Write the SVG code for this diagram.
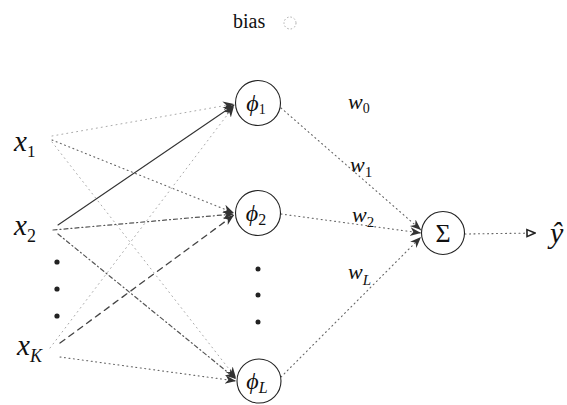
<svg xmlns="http://www.w3.org/2000/svg" width="567" height="405" viewBox="0 0 567 405">
<defs>
<style>
text{font-family:'Liberation Serif','Times New Roman',serif;fill:#111}
.i{font-style:italic}
.node{fill:#fff;stroke:#222;stroke-width:1.1}
.c{fill:none;stroke-linecap:round}
.dot{stroke:#666;stroke-width:1.1;stroke-dasharray:1 3.5}
.faint{stroke:#aaa;stroke-width:1;stroke-dasharray:1 4}
.dd{stroke:#555;stroke-width:1.2;stroke-dasharray:4 3 1 3}
.dash{stroke:#444;stroke-width:1.3;stroke-dasharray:6 5}
.solid{stroke:#333;stroke-width:1.1}
</style>
<marker id="ah" viewBox="0 0 10 10" refX="10" refY="5" markerWidth="11" markerHeight="11" markerUnits="userSpaceOnUse" orient="auto">
<path d="M0,1 L10,5 L0,9 L3,5 Z" fill="#333"/>
</marker>
<marker id="ao" viewBox="0 0 10 10" refX="10" refY="5" markerWidth="10" markerHeight="10" markerUnits="userSpaceOnUse" orient="auto">
<path d="M1,1.5 L9,5 L1,8.5 Z" fill="#fff" stroke="#222" stroke-width="1.6"/>
</marker>
</defs>
<rect width="567" height="405" fill="#fff"/>
<g id="connectors">
<line class="c faint" x1="52" y1="136" x2="234" y2="104" marker-end="url(#ah)"/>
<line class="c dot" x1="52" y1="140" x2="234" y2="213" marker-end="url(#ah)"/>
<line class="c faint" x1="52" y1="142" x2="236" y2="378" marker-end="url(#ah)"/>
<line class="c solid" x1="58" y1="225" x2="234" y2="105" marker-end="url(#ah)"/>
<line class="c dd" x1="53" y1="230" x2="234" y2="214" marker-end="url(#ah)"/>
<line class="c dd" x1="58" y1="234" x2="236" y2="379" marker-end="url(#ah)"/>
<line class="c faint" x1="50" y1="348" x2="234" y2="106" marker-end="url(#ah)"/>
<line class="c dash" x1="60" y1="343" x2="234" y2="215" marker-end="url(#ah)"/>
<line class="c dot" x1="60" y1="357" x2="236" y2="381" marker-end="url(#ah)"/>
<line class="c dot" x1="281" y1="108" x2="421" y2="230" marker-end="url(#ah)"/>
<line class="c dot" x1="281" y1="214" x2="421" y2="233" marker-end="url(#ah)"/>
<line class="c dot" x1="281" y1="377" x2="421" y2="237" marker-end="url(#ah)"/>
<line class="c dot" x1="465" y1="234" x2="536" y2="233" marker-end="url(#ao)"/>
</g>
<g id="bias">
<text x="233" y="28" font-size="20">bias</text>
<circle cx="290" cy="23" r="6" fill="none" stroke="#aaa" stroke-width="1" stroke-dasharray="1.5 2"/>
</g>
<g id="x1"><text class="i" x="14" y="151" font-size="29">x<tspan font-size="17" dy="6" font-style="normal">1</tspan></text></g>
<g id="x2"><text class="i" x="14" y="235" font-size="29">x<tspan font-size="18" dy="7" font-style="normal">2</tspan></text></g>
<g id="xK"><text class="i" x="17" y="355" font-size="29">x<tspan font-size="18" dy="7">K</tspan></text></g>
<g id="input-dots" fill="#222">
<circle cx="57" cy="262" r="2.6"/><circle cx="57" cy="289" r="2.6"/><circle cx="57" cy="316" r="2.6"/>
</g>
<g id="phi1"><circle class="node" cx="258" cy="103" r="22.5"/><text class="i" x="256" y="111" font-size="24" text-anchor="middle">ϕ<tspan font-size="14" dy="3" font-style="normal">1</tspan></text></g>
<g id="phi2"><circle class="node" cx="258" cy="213" r="22.5"/><text class="i" x="256" y="221" font-size="24" text-anchor="middle">ϕ<tspan font-size="16" dy="4" font-style="normal">2</tspan></text></g>
<g id="hidden-dots" fill="#222">
<circle cx="258" cy="269" r="2.5"/><circle cx="258" cy="295" r="2.5"/><circle cx="258" cy="322" r="2.5"/>
</g>
<g id="phiL"><circle class="node" cx="259" cy="381" r="22"/><text class="i" x="257" y="389" font-size="24" text-anchor="middle">ϕ<tspan font-size="16" dy="4">L</tspan></text></g>
<g id="sum"><circle class="node" cx="443" cy="233" r="21.5"/><text x="443" y="242" font-size="26" text-anchor="middle">Σ</text></g>
<g id="weights">
<text class="i" x="348" y="109" font-size="22">w<tspan font-size="14" dy="4" font-style="normal">0</tspan></text>
<text class="i" x="350" y="172" font-size="22">w<tspan font-size="15" dy="5" font-style="normal">1</tspan></text>
<text class="i" x="352" y="222" font-size="22">w<tspan font-size="15" dy="5" font-style="normal">2</tspan></text>
<text class="i" x="348" y="279" font-size="22">w<tspan font-size="15" dy="6">L</tspan></text>
</g>
<g id="yhat"><text class="i" x="550" y="243" font-size="30">ŷ</text></g>
</svg>
